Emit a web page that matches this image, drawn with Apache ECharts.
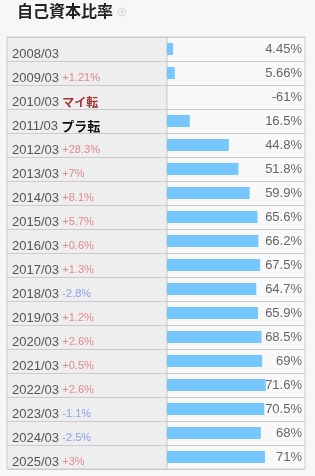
<!DOCTYPE html>
<html><head><meta charset="utf-8">
<script src="https://cdn.jsdelivr.net/npm/echarts@6/dist/echarts.min.js"></script>
<style>html,body{margin:0;padding:0;background:#f7f7f7;}#c{width:315px;height:476px;}</style>
</head><body><div id="c"></div>
<script>
const periods = ["2008/03","2009/03","2010/03","2011/03","2012/03","2013/03","2014/03","2015/03","2016/03","2017/03","2018/03","2019/03","2020/03","2021/03","2022/03","2023/03","2024/03","2025/03"];
const ratios = [4.45,5.66,-61,16.5,44.8,51.8,59.9,65.6,66.2,67.5,64.7,65.9,68.5,69,71.6,70.5,68,71];
const changes = ["","+1.21%","マイ転","プラ転","+28.3%","+7%","+8.1%","+5.7%","+0.6%","+1.3%","-2.8%","+1.2%","+2.6%","+0.5%","+2.6%","-1.1%","-2.5%","+3%"];
const titleText = "自己資本比率";

const FONT = '"Liberation Sans", "Noto Sans", sans-serif';
const CJK = '"Noto Sans CJK JP", sans-serif';
function changeStyle(c){
  if (c === "") return "";
  if (c === "マイ転") return "{mi|" + c + "}";
  if (c === "プラ転") return "{pu|" + c + "}";
  if (c.charAt(0) === "-") return "{dn|" + c + "}";
  return "{up|" + c + "}";
}
const chart = echarts.init(document.getElementById('c'), null, {renderer:'canvas'});
const T = 37, H = 432;
chart.setOption({
  backgroundColor: '#f7f7f7',
  animation: false,
  title: {
    text: titleText, left: 17, top: 1, padding: 0,
    textStyle: {fontSize: 16, fontWeight: 'bold', color: '#222', fontFamily: CJK, lineHeight: 20}
  },
  graphic: [
    {type:'circle', shape:{cx:122, cy:12, r:4}, style:{fill:'#f2f2f2', stroke:'#dddddd', lineWidth:1}},
    {type:'text', x:122, y:12, style:{text:'?', fill:'#cccccc', font:'bold 6px sans-serif', align:'center', verticalAlign:'middle'}}
  ],
  grid: [
    {left: 7, top: T, width: 160, height: H, show: true, backgroundColor: '#eeeeee', borderColor: '#cccccc', borderWidth: 1},
    {left: 167, top: T, width: 138, height: H, show: true, backgroundColor: '#f9f9f9', borderColor: '#cccccc', borderWidth: 1}
  ],
  xAxis: [
    {gridIndex: 0, type: 'value', min: 0, max: 1, show: false},
    {gridIndex: 1, type: 'value', min: 0, max: 100, show: false}
  ],
  yAxis: [
    {gridIndex: 0, type: 'category', data: periods, inverse: true, boundaryGap: true,
     axisLine:{show:false}, axisTick:{show:false},
     splitLine:{show:true, interval:0, lineStyle:{color:'#cccccc', width:1}},
     axisLabel:{inside:true, interval:0, margin:5, padding:[7,0,0,0],
       formatter:(v,i)=> '{d|' + v + '}' + (changes[i] ? ' ' + changeStyle(changes[i]) : ''),
       rich:{
         d:{fontSize:13, color:'#555555', fontFamily:FONT, lineHeight:16, verticalAlign:'bottom'},
         up:{fontSize:11, color:'#e08a8e', fontFamily:FONT, lineHeight:16, verticalAlign:'bottom', padding:[0,0,1,0]},
         dn:{fontSize:11, color:'#8aa2f2', fontFamily:FONT, lineHeight:16, verticalAlign:'bottom', padding:[0,0,1,0]},
         mi:{fontSize:12, color:'#a83434', fontWeight:'bold', fontFamily:CJK, lineHeight:16, verticalAlign:'bottom'},
         pu:{fontSize:13, color:'#111111', fontWeight:'bold', fontFamily:CJK, lineHeight:16, verticalAlign:'bottom'}
       }}
    },
    {gridIndex: 1, type: 'category', data: periods, inverse: true, boundaryGap: true, position: 'right',
     axisLine:{show:false}, axisTick:{show:false},
     splitLine:{show:true, interval:0, lineStyle:{color:'#cccccc', width:1}},
     axisLabel:{inside:true, interval:0, margin:3, padding:[7,0,0,0], color:'#666666', fontSize:13, fontFamily:FONT,
       formatter:(v,i)=> ratios[i] + '%'}
    }
  ],
  series: [
    {type:'bar', xAxisIndex:1, yAxisIndex:1, data: ratios, barWidth: 12, clip: true,
     itemStyle:{color:'#76c7ff'}, silent:true}
  ]
});
</script></body></html>
